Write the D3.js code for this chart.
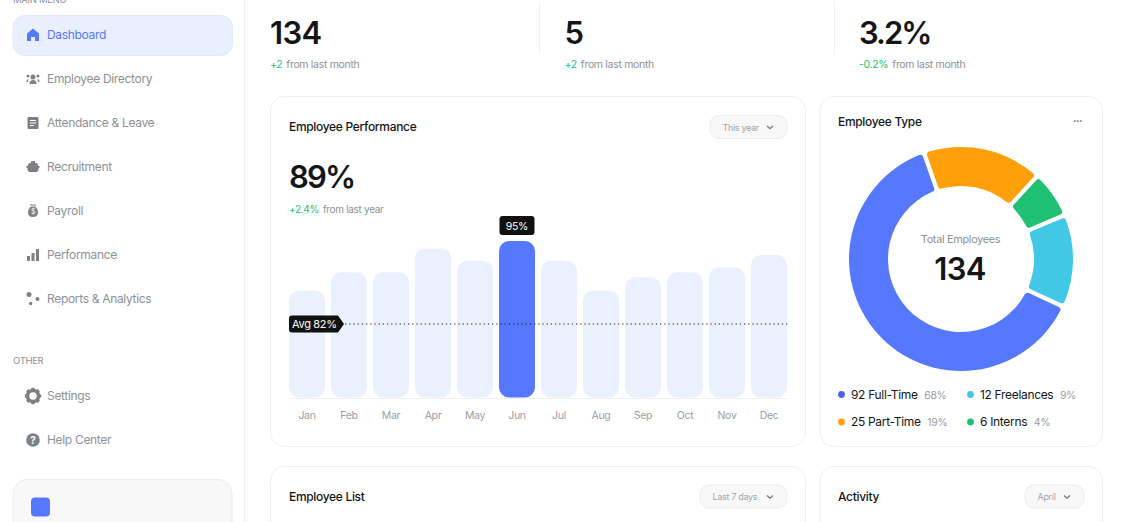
<!DOCTYPE html>
<html>
<head>
<meta charset="utf-8">
<script src="https://cdn.jsdelivr.net/npm/d3@7"></script>
<style>
  html, body { margin: 0; padding: 0; background: #fff; overflow: hidden; }
  svg { display: block; font-family: Inter, "Noto Sans", sans-serif; letter-spacing: -0.02em; }
</style>
</head>
<body>
<div id="container"></div>
<script>
// chart data
const months = ["Jan", "Feb", "Mar", "Apr", "May", "Jun", "Jul", "Aug", "Sep", "Oct", "Nov", "Dec"];
const performance = [65, 76, 76, 90.5, 83, 95, 83, 65, 73, 76, 79, 86.5];
const highlightMonth = "Jun";
const avgLabel = "Avg 82%";
// the reference draws its avg line here on the bar scale, lower than 82 would fall
const avgLevel = 44.6;

const typeNames = ["Part-Time", "Interns", "Freelances", "Full-Time"];
const typeCounts = [25, 6, 12, 92];
const typePercents = ["19%", "4%", "9%", "68%"];
// ring shares, the ring is not drawn to the legend counts
const typeShares = [17, 6.4, 13.1, 63.5];
const typeColors = ["#ff9f0a", "#20c073", "#40c8e6", "#5578ff"];

const statValues = ["134", "5", "3.2%"];
const statDeltas = ["+2", "+2", "-0.2%"];

const menuItems = ["Dashboard", "Employee Directory", "Attendance & Leave", "Recruitment", "Payroll", "Performance", "Reports & Analytics"];
const otherItems = ["Settings", "Help Center"];

const blue = "#5578ff", ink = "#141517", grey = "#8d9198", green = "#22c373", line = "#eef0f2";

const svg = d3.select("#container").append("svg").attr("width", 1128).attr("height", 522);

const label = (g, x, y, str, size, fill, weight) => g.append("text")
  .attr("x", x).attr("y", y)
  .attr("font-size", size)
  .attr("font-weight", weight || 400)
  .attr("fill", fill)
  .text(str);

const box = (g, x, y, w, h, r, fill, stroke) => g.append("rect")
  .attr("x", x).attr("y", y).attr("width", w).attr("height", h).attr("rx", r)
  .attr("fill", fill).attr("stroke", stroke || "none");

// sidebar
const side = svg.append("g");
side.append("line").attr("x1", 244.5).attr("x2", 244.5).attr("y1", 0).attr("y2", 522).attr("stroke", line);
label(side, 13, 3, "MAIN MENU", 9.5, grey);
box(side, 13, 15.5, 219.5, 40, 12, "#eaefff", "#e2e8fb");

const icons = [
  "M0-6.5 6-1.5V6H2V2H-2V6H-6V-1.5Z",
  "M-2.5-2a2.5 2.5 0 1 1 5 0a2.5 2.5 0 1 1-5 0M-3.5 5c0-3 1.5-4 3.5-4s3.5 1 3.5 4ZM-6.5-3a1.5 1.5 0 1 1 3 0a1.5 1.5 0 1 1-3 0M3.5-3a1.5 1.5 0 1 1 3 0a1.5 1.5 0 1 1-3 0M-6.5 3c0-2 .8-3 2-3L-5 3ZM6.5 3c0-2-.8-3-2-3L5 3Z",
  "M-4.5-6H4.5Q5.5-6 5.5-5V5Q5.5 6 4.5 6H-4.5Q-5.5 6-5.5 5V-5Q-5.5-6-4.5-6ZM-3-3V-2H3V-3ZM-3-.5V.5H3V-.5ZM-3 2V3H1V2Z",
  "M-4-4H4L5.5-1H6.5V1H5.5V3L4 5H-4L-5.5 3V1H-6.5V-1H-5.5ZM-2-6H2V-4H-2Z",
  "M-3-6.5H3V-5.5H-3ZM-2-4.5H2C4-3 5-1 5 1.5C5 4.5 3 6 0 6S-5 4.5-5 1.5C-5-1-4-3-2-4.5Z",
  "M-6 1H-3V6H-6ZM-1.5-2H1.5V6H-1.5ZM3-6H6V6H3Z",
  "M-6.5-4.5a2.5 2.5 0 1 1 5 0a2.5 2.5 0 1 1-5 0M2.5 0a2 2 0 1 1 4 0a2 2 0 1 1-4 0M-4 4.5a1.7 1.7 0 1 1 3.4 0a1.7 1.7 0 1 1-3.4 0"
];

menuItems.forEach((name, i) => {
  const y = 35 + i * 44;
  const col = i === 0 ? blue : grey;
  side.append("path").attr("d", icons[i]).attr("transform", `translate(33,${y})`).attr("fill", i === 0 ? blue : "#7d8087");
  label(side, 47, y + 4.3, name, 12, col);
});
side.append("text").attr("x", 33).attr("y", 213.5).attr("text-anchor", "middle").attr("font-size", 7).attr("fill", "#fff").text("$");

label(side, 13, 363.5, "OTHER", 9.5, grey);
// gear and help icons
const gear = side.append("g").attr("transform", "translate(33,396)");
gear.append("circle").attr("r", 5.5).attr("fill", "none").attr("stroke", "#7d8087").attr("stroke-width", 3.6);
gear.selectAll("rect").data(d3.range(8)).join("rect")
  .attr("x", -1.6).attr("y", -8.2).attr("width", 3.2).attr("height", 3).attr("fill", "#7d8087")
  .attr("transform", d => `rotate(${d * 45})`);
const help = side.append("g").attr("transform", "translate(33,440)");
help.append("circle").attr("r", 6.8).attr("fill", "#7d8087");
help.append("text").attr("text-anchor", "middle").attr("y", 3.6).attr("font-size", 10).attr("font-weight", 700).attr("fill", "#fff").text("?");
label(side, 47, 400.3, otherItems[0], 12, grey);
label(side, 47, 444.3, otherItems[1], 12, grey);

box(side, 13, 479.5, 219, 60, 14, "#f8f8f8", "#ececec");
box(side, 31, 497.5, 19, 19, 4, blue);

// top stats
const stats = svg.append("g");
const statX = [270, 564.5, 859];
statValues.forEach((v, i) => {
  label(stats, statX[i], 44, v, 31, ink, 600).attr("letter-spacing", v.includes("%") ? -2 : -0.7);
  const t = label(stats, statX[i], 68, statDeltas[i], 10.5, green);
  t.append("tspan").attr("dx", 4).attr("fill", grey).text("from last month");
});
[539.5, 834.5].forEach(x => stats.append("line").attr("x1", x).attr("x2", x).attr("y1", 2).attr("y2", 54).attr("stroke", line));

// cards
const cards = svg.append("g");
box(cards, 270.5, 96.5, 535, 350, 14, "#fff", line);
box(cards, 820, 96.5, 282.5, 350, 14, "#fff", line);
box(cards, 270.5, 466.5, 535, 80, 14, "#fff", line);
box(cards, 820, 466.5, 282.5, 80, 14, "#fff", line);

const pill = (x, y, w, str) => {
  box(cards, x, y, w, 23, 9, "#f8f8f8", "#ececec");
  label(cards, x + 12.5, y + 15, str, 9, "#a2a5ab");
  cards.append("path")
    .attr("d", `M${x + w - 20} ${y + 10.5}l3 2.6l3 -2.6`)
    .attr("fill", "none").attr("stroke", "#70737a").attr("stroke-width", 1.2);
};
label(cards, 289, 131, "Employee Performance", 12, ink, 500);
pill(710, 115.5, 77, "This year");
label(cards, 289, 501, "Employee List", 12, ink, 500);
pill(700, 485, 87, "Last 7 days");
label(cards, 838, 126, "Employee Type", 12, ink, 500);
label(cards, 838, 501, "Activity", 12, ink, 500);
pill(1025, 485, 59, "April");
label(cards, 1073, 122.5, "•••", 6, "#70737a");

label(cards, 289, 188, "89%", 31, ink, 600).attr("letter-spacing", -1.8);
const sub = label(cards, 289, 212.5, "+2.4%", 10, green);
sub.append("tspan").attr("dx", 4).attr("fill", grey).text("from last year");

// bar chart
const x = d3.scaleBand().domain(months).range([289, 787]).paddingInner(0.143);
const y = d3.scaleLinear().domain([0, 95]).range([397.5, 241]);

const chart = svg.append("g");
chart.selectAll("rect").data(months).join("rect")
  .attr("x", d => x(d))
  .attr("y", (d, i) => y(performance[i]))
  .attr("width", x.bandwidth())
  .attr("height", (d, i) => y(0) - y(performance[i]))
  .attr("rx", 10)
  .attr("fill", d => d === highlightMonth ? blue : "#ebf0fe");

const axis = chart.append("g")
  .attr("transform", `translate(0,${y(0) + 0.5})`)
  .call(d3.axisBottom(x).tickSize(0).tickPadding(14));
axis.attr("font-family", null);
axis.select(".domain").attr("stroke", line);
axis.selectAll("text").attr("font-size", 10.5).attr("fill", "#9a9ea6");

// value tag over highlighted bar
const hiValue = performance[months.indexOf(highlightMonth)];
const hiX = x(highlightMonth) + x.bandwidth() / 2;
box(chart, hiX - 17.5, y(hiValue) - 25, 35, 19, 3, "#111");
chart.append("text").attr("x", hiX).attr("y", y(hiValue) - 11.5)
  .attr("text-anchor", "middle").attr("font-size", 10.5).attr("fill", "#fff").text(hiValue + "%");

// avg line and tag
const avgY = y(avgLevel);
chart.append("line").attr("x1", 345).attr("x2", 788).attr("y1", avgY).attr("y2", avgY)
  .attr("stroke", "#222").attr("stroke-width", 1).attr("stroke-dasharray", "1.3 2.9");
chart.append("path")
  .attr("d", `M292 ${avgY - 8.5}H338L344 ${avgY}L338 ${avgY + 8.5}H292Q289 ${avgY + 8.5} 289 ${avgY + 5.5}V${avgY - 5.5}Q289 ${avgY - 8.5} 292 ${avgY - 8.5}Z`)
  .attr("fill", "#111");
chart.append("text").attr("x", 292).attr("y", avgY + 4).attr("font-size", 11).attr("fill", "#fff").text(avgLabel);

// donut
const pie = d3.pie().sort(null).padAngle(0.032)
  .startAngle(-19.2 * Math.PI / 180)
  .endAngle((360 - 19.2) * Math.PI / 180);
const arc = d3.arc().innerRadius(73).outerRadius(112).cornerRadius(3);

const donut = svg.append("g").attr("transform", "translate(961,259)");
donut.selectAll("path").data(pie(typeShares)).join("path")
  .attr("d", arc)
  .attr("fill", (d, i) => typeColors[i]);
donut.append("text").attr("text-anchor", "middle").attr("x", -0.5).attr("y", -16).attr("font-size", 10.9).attr("fill", grey).text("Total Employees");
donut.append("text").attr("text-anchor", "middle").attr("x", -1).attr("y", 21).attr("font-size", 31).attr("letter-spacing", -0.7).attr("font-weight", 600).attr("fill", ink).text(statValues[0]);

// legend
const legendOrder = [3, 2, 0, 1];
const legendDots = ["#4f62e6", "#40c8e6", "#ff9f0a", "#20c073"];
const legend = svg.append("g");
legendOrder.forEach((k, i) => {
  const lx = i % 2 === 0 ? 841.5 : 970.5;
  const ly = i < 2 ? 394.5 : 422;
  legend.append("circle").attr("cx", lx).attr("cy", ly).attr("r", 3.4).attr("fill", legendDots[i]);
  const t = label(legend, lx + 9.5, ly + 4.3, `${typeCounts[k]} ${typeNames[k]}`, 12, ink);
  t.append("tspan").attr("dx", 6.5).attr("font-size", 10.5).attr("fill", "#9a9ea6").text(typePercents[k]);
});
</script>
</body>
</html>
